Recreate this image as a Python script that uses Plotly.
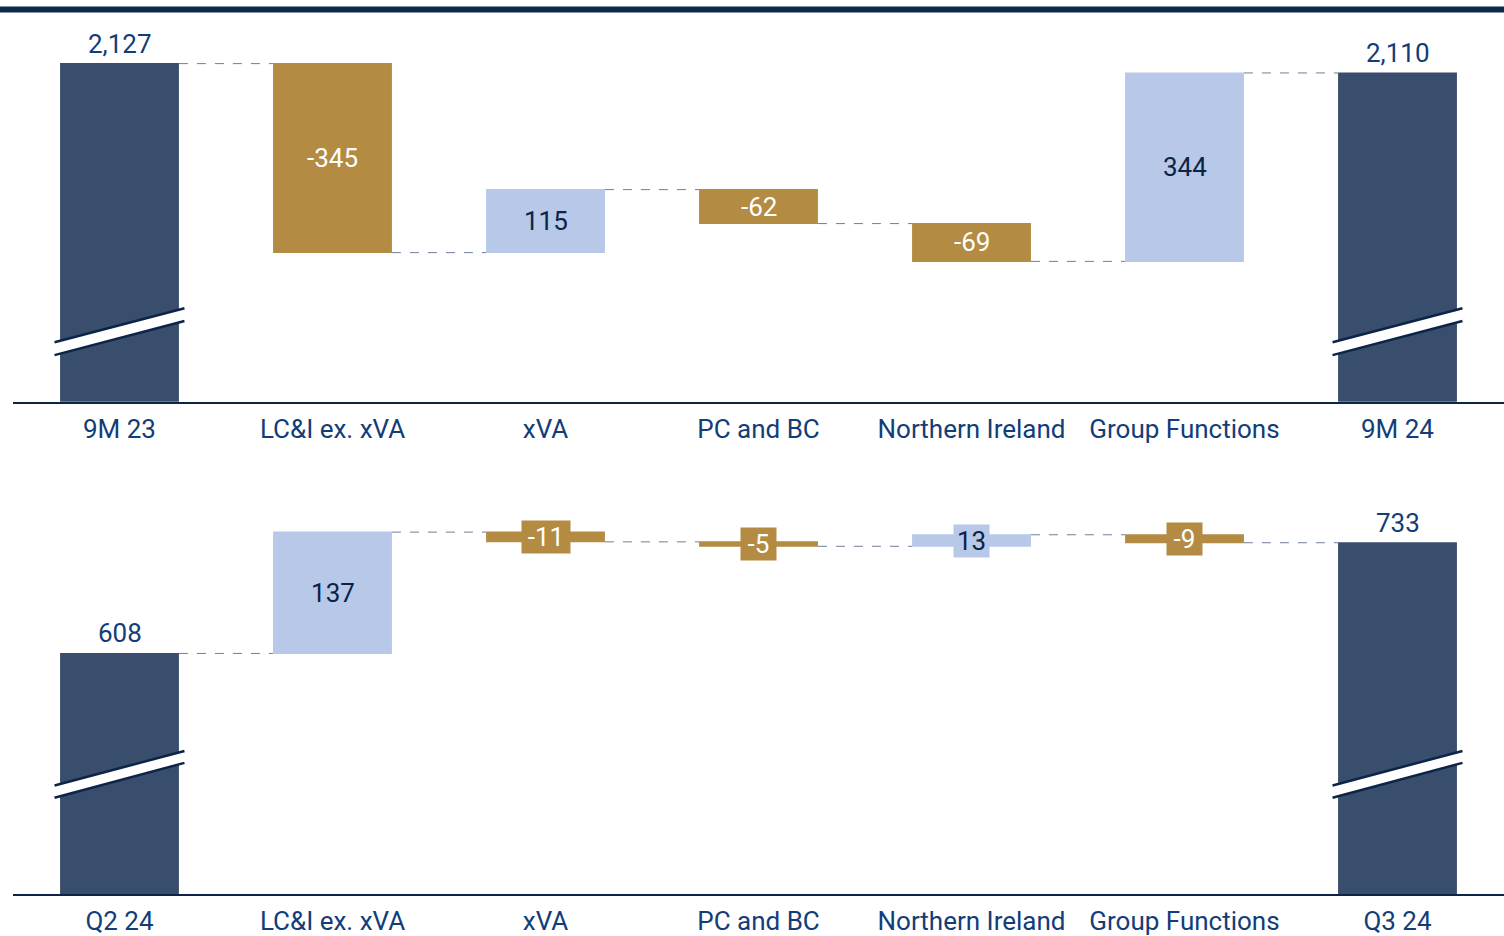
import plotly.graph_objects as go

# ---------------- data ----------------
top_categories = ["9M 23", "LC&I ex. xVA", "xVA", "PC and BC", "Northern Ireland", "Group Functions", "9M 24"]
top_values = [2127, -345, 115, -62, -69, 344, 2110]

bottom_categories = ["Q2 24", "LC&I ex. xVA", "xVA", "PC and BC", "Northern Ireland", "Group Functions", "Q3 24"]
bottom_values = [608, 137, -11, -5, 13, -9, 733]

measures = ["absolute", "relative", "relative", "relative", "relative", "relative", "total"]

# ---------------- style ----------------
NAVY_BAR = "#394D6C"
GOLD = "#B38B42"
LIGHT = "#B8C8E8"
LABEL_BLUE = "#123D78"
DARK_TEXT = "#0B2345"
AXIS_DARK = "#0B2447"
CONNECT = "#6F7F98"
FONT = "Roboto"
FS = 26

W, H = 1504, 936
ML = 13

def py(px):
    return 1 - px / H

top_dom = [py(404), py(16)]
bot_dom = [py(899), py(503)]
top_range = [1509.6, 2214.1]
bot_range = [336.2, 780.9]

fig = go.Figure()

def add_wf(cats, vals, xa, ya):
    fig.add_trace(go.Waterfall(
        x=cats, y=vals, measure=measures, xaxis=xa, yaxis=ya,
        increasing=dict(marker=dict(color=LIGHT, line=dict(width=0))),
        decreasing=dict(marker=dict(color=GOLD, line=dict(width=0))),
        totals=dict(marker=dict(color=NAVY_BAR, line=dict(width=0))),
        connector=dict(mode="between", line=dict(color=CONNECT, width=1, dash="dash")),
        width=0.558, hoverinfo="skip", showlegend=False, textinfo="none",
    ))

add_wf(top_categories, top_values, "x", "y")
add_wf(bottom_categories, bottom_values, "x2", "y2")

annotations = []
shapes = []

def labels(cats, vals, xref, yref, small_box):
    run = 0
    for i, (c, v) in enumerate(zip(cats, vals)):
        if i == 0 or i == len(vals) - 1:
            run = v
            annotations.append(dict(
                x=i, y=v, xref=xref, yref=yref, text=f"{v:,}", showarrow=False,
                yanchor="bottom", yshift=3,
                font=dict(family=FONT, size=FS, color=LABEL_BLUE),
            ))
        else:
            start = run
            run = run + v
            mid = (start + run) / 2
            col = GOLD if v < 0 else LIGHT
            tcol = "white" if v < 0 else DARK_TEXT
            txt = f"{v:,}"
            annotations.append(dict(
                x=i, y=mid, xref=xref, yref=yref, text=txt, showarrow=False,
                yanchor="middle", bgcolor=col, borderpad=0,
                height=32, width=(len(txt) * 13 + 9) if small_box else None,
                font=dict(family=FONT, size=FS, color=tcol),
            ))

labels(top_categories, top_values, "x", "y", False)
labels(bottom_categories, bottom_values, "x2", "y2", True)

# axis-break marks on the total bars
def brk(idx, xref, yref, rng, fl_up, fr_up, fl_lo, fr_lo):
    span = rng[1] - rng[0]
    f = lambda fr: rng[0] + fr * span
    x0, x1 = idx - 0.305, idx + 0.305
    shapes.append(dict(type="path", xref=xref, yref=yref,
                       path=f"M {x0} {f(fl_up)} L {x1} {f(fr_up)} L {x1} {f(fr_lo)} L {x0} {f(fl_lo)} Z",
                       fillcolor="white", line=dict(width=0), layer="above"))
    for a, b in [(fl_up, fr_up), (fl_lo, fr_lo)]:
        shapes.append(dict(type="line", xref=xref, yref=yref, x0=x0, x1=x1, y0=f(a), y1=f(b),
                           line=dict(color=AXIS_DARK, width=2.5), layer="above"))

for idx in (0, len(top_values) - 1):
    brk(idx, "x", "y", top_range, 0.1546, 0.2423, 0.1211, 0.2095)
    brk(idx, "x2", "y2", bot_range, 0.276, 0.3636, 0.245, 0.3333)

# top rule
shapes.append(dict(type="rect", xref="paper", yref="paper", x0=-ML / (W - ML), x1=1.01,
                   y0=py(12.5), y1=py(6.5), fillcolor="#0B2A4A", line=dict(width=0), layer="above"))

xcommon = dict(type="category", range=[-0.5, 6.5], showline=True, linecolor=AXIS_DARK, linewidth=2,
               showgrid=False, zeroline=False, ticks="outside", ticklen=3, tickcolor="rgba(0,0,0,0)",
               tickfont=dict(family=FONT, size=FS, color=LABEL_BLUE), fixedrange=True)
ycommon = dict(showgrid=False, zeroline=False, showticklabels=False, showline=False, fixedrange=True)

fig.update_layout(
    width=W, height=H,
    margin=dict(l=ML, r=0, t=0, b=0),
    paper_bgcolor="white", plot_bgcolor="white",
    xaxis=dict(domain=[0, 1], anchor="y", **xcommon),
    yaxis=dict(domain=top_dom, range=top_range, anchor="x", **ycommon),
    xaxis2=dict(domain=[0, 1], anchor="y2", **xcommon),
    yaxis2=dict(domain=bot_dom, range=bot_range, anchor="x2", **ycommon),
    annotations=annotations, shapes=shapes,
    font=dict(family=FONT),
)

fig.write_html("out.html", config={"displayModeBar": False},
               post_script="document.body.style.margin='0';document.body.style.overflow='hidden';")
